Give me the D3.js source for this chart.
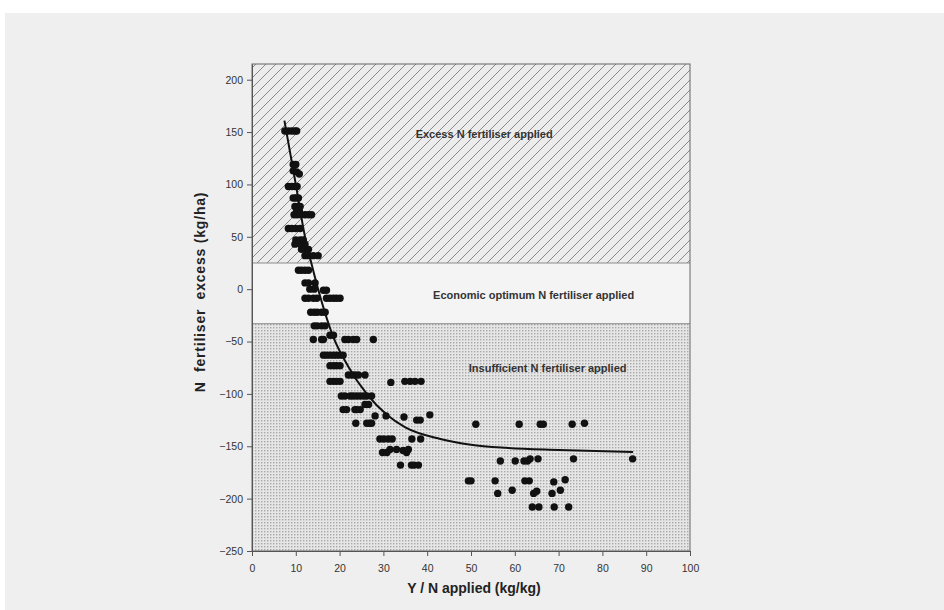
<!doctype html>
<html>
<head>
<meta charset="utf-8">
<script src="https://d3js.org/d3.v7.min.js"></script>
<style>
  body { margin: 0; background: #fff; }
  text { font-family: "Liberation Sans", Arial, sans-serif; }
</style>
</head>
<body>
<div id="chart"></div>
<script>
// x ticks, y ticks
var xTicks = [0, 10, 20, 30, 40, 50, 60, 70, 80, 90, 100];
var yTicks = [-250, -200, -150, -100, -50, 0, 50, 100, 150, 200];

// zone limits (kg/ha)
var zoneTop = 215;
var excessFrom = 25;
var insufficientFrom = -33;

var zoneLabels = [
  {text: "Excess N fertiliser applied", x: 53, y: 148},
  {text: "Economic optimum N fertiliser applied", x: 64.3, y: -6},
  {text: "Insufficient N fertiliser applied", x: 67.5, y: -75}
];

// fitted curve
var curvePoints = [
  [7.4, 161], [10, 100], [12.1, 50], [13.6, 24], [15.1, 0], [18.6, -46],
  [22, -74], [26.2, -100], [30.8, -120], [35, -132], [43, -143],
  [50, -148.5], [58, -151.5], [70, -153.5], [87, -155.4]
];

// observations [Y/N, excess]
var observations = [
  [7.5,151],[8.3,151],[9.1,151],[9.8,151],[10.2,151],
  [9.4,119],[10.0,119],
  [9.4,113],[10.2,112],[10.8,110],
  [8.3,98],[9.1,98],[9.8,98],[10.3,98],
  [9.4,87],[10.0,87],[10.6,87],
  [9.8,79],[10.6,79],[11.0,79],
  [10.2,75],[10.8,75],
  [9.6,71],[10.3,71],[11.1,71],[12.1,71],[12.9,71],[13.6,71],
  [8.3,58],[9.1,58],[10.0,58],[11.0,58],
  [10.0,47],[11.0,47],[11.7,47],
  [9.8,43],[11.0,43],[12.1,43],
  [11.3,38],[12.1,38],[12.9,38],
  [12.1,32],[13.0,32],[14.0,32],[15.1,32],
  [10.6,18],[11.3,18],[12.1,18],[12.9,18],
  [12.1,6],[12.9,6],[14.4,6],
  [13.2,0],[14.2,0],[16.3,-1],[17.0,-1],
  [12.1,-8.6],[12.9,-8.6],[14.0,-8.6],[14.8,-8.6],[17.0,-8.6],[17.8,-8.6],[18.6,-8.6],[19.3,-8.6],[20.1,-8.6],
  [13.4,-22],[14.2,-22],[14.9,-22],[15.9,-22],[16.7,-22],
  [14.2,-35],[14.9,-35],[15.9,-35],[16.7,-35],
  [17.8,-44],[18.6,-44],
  [14.0,-48],[15.9,-48],[16.3,-48],[21.2,-48],[22.0,-48],[23.1,-48],[23.9,-48],[27.7,-48],
  [16.3,-63],[17.0,-63],[17.8,-63],[18.6,-63],[19.3,-63],[20.1,-63],[20.8,-63],
  [17.8,-73],[18.6,-73],[19.3,-73],[20.1,-73],
  [22.0,-82],[22.8,-82],[23.5,-82],[24.3,-82],[25.8,-82],
  [17.8,-88],[18.6,-88],[19.3,-88],[20.1,-88],[31.7,-89],[34.9,-88],[36.1,-88],[37.2,-88],[38.6,-88],
  [20.4,-102],[21.2,-102],[22.4,-102],[23.1,-102],[23.9,-102],[24.7,-102],[25.5,-102],[26.2,-102],[27.3,-102],
  [25.8,-110],[26.6,-110],
  [20.8,-115],[21.6,-115],[23.5,-115],[23.9,-115],[24.7,-115],
  [28.1,-121],[30.6,-121],[34.7,-122],[37.6,-125],[38.4,-125],[40.6,-120],
  [23.7,-128],[26.2,-128],[26.9,-128],[27.3,-128],
  [51.1,-129],[61.0,-129],[65.8,-129],[66.5,-129],[73.1,-129],[75.9,-128],
  [29.2,-143],[30.1,-143],[31.1,-143],[32.0,-143],[36.5,-143],[38.5,-143],
  [29.8,-156],[30.8,-156],[31.5,-153],[33.0,-153],[34.5,-154],[35.3,-156],[35.7,-153],
  [33.9,-168],[36.4,-168],[37.0,-168],[38.0,-168],
  [56.7,-164],[60.1,-164],[62.1,-164],[62.9,-164],[63.5,-162],[65.3,-162],[73.4,-162],[86.9,-162],
  [49.4,-183],[50.0,-183],[55.5,-183],[62.3,-183],[63.3,-183],[68.9,-184],[71.5,-182],
  [56.1,-195],[59.4,-192],[64.3,-195],[65.0,-193],[68.5,-195],[70.4,-192],
  [64.0,-208],[65.5,-208],[69.0,-208],[72.3,-208]
];

var W = 944, H = 610;
var plotL = 252, plotR = 690, plotT = 64, plotB = 551;

var svg = d3.select("#chart").append("svg")
  .attr("width", W).attr("height", H);

svg.append("rect").attr("x", 5).attr("y", 13)
  .attr("width", W - 5).attr("height", H - 13).attr("fill", "#efefef");

var x = d3.scaleLinear().domain([0, 100]).range([plotL, plotR]);
var y = d3.scaleLinear().domain([-250, zoneTop]).range([plotB, plotT]);

var defs = svg.append("defs");
var hatch = defs.append("pattern").attr("id", "hatch")
  .attr("patternUnits", "userSpaceOnUse").attr("width", 10).attr("height", 10);
hatch.append("rect").attr("width", 10).attr("height", 10).attr("fill", "#ececec");
hatch.append("path").attr("d", "M-1,1 l2,-2 M0,10 l10,-10 M9,11 l2,-2")
  .attr("stroke", "#6a6a6a").attr("stroke-width", 0.75);

var dots = defs.append("pattern").attr("id", "dots")
  .attr("patternUnits", "userSpaceOnUse").attr("width", 3).attr("height", 3);
dots.append("rect").attr("width", 3).attr("height", 3).attr("fill", "#e6e6e6");
dots.append("rect").attr("width", 1.4).attr("height", 1.4).attr("fill", "#a8a8a8");

// zones
svg.append("rect").attr("x", x(0)).attr("y", y(zoneTop))
  .attr("width", x(100) - x(0)).attr("height", y(excessFrom) - y(zoneTop))
  .attr("fill", "url(#hatch)");
svg.append("rect").attr("x", x(0)).attr("y", y(excessFrom))
  .attr("width", x(100) - x(0)).attr("height", y(insufficientFrom) - y(excessFrom))
  .attr("fill", "#f4f4f4");
svg.append("rect").attr("x", x(0)).attr("y", y(insufficientFrom))
  .attr("width", x(100) - x(0)).attr("height", y(-250) - y(insufficientFrom))
  .attr("fill", "url(#dots)");

[excessFrom, insufficientFrom].forEach(function(v) {
  svg.append("line").attr("x1", x(0)).attr("x2", x(100))
    .attr("y1", y(v)).attr("y2", y(v))
    .attr("stroke", "#8a8a8a").attr("stroke-width", 1);
});

// frame
svg.append("rect").attr("x", x(0)).attr("y", y(zoneTop))
  .attr("width", x(100) - x(0)).attr("height", y(-250) - y(zoneTop))
  .attr("fill", "none").attr("stroke", "#666").attr("stroke-width", 1);

svg.selectAll(".zlab").data(zoneLabels).enter().append("text")
  .attr("x", function(d) { return x(d.x); })
  .attr("y", function(d) { return y(d.y); })
  .attr("dy", "0.35em")
  .attr("text-anchor", "middle")
  .attr("font-size", 11).attr("font-weight", "bold").attr("fill", "#333")
  .text(function(d) { return d.text; });

// axes
var gx = svg.append("g").attr("transform", "translate(0," + plotB + ")")
  .call(d3.axisBottom(x).tickValues(xTicks).tickSize(5).tickPadding(9).tickSizeOuter(0));
var gy = svg.append("g").attr("transform", "translate(" + plotL + ",0)")
  .call(d3.axisLeft(y).tickValues(yTicks).tickSize(5).tickPadding(4).tickSizeOuter(0));
[gx, gy].forEach(function(g) {
  g.select(".domain").attr("stroke", "#555");
  g.selectAll(".tick line").attr("stroke", "#555");
  g.selectAll("text").attr("font-size", 10.5).attr("fill", "#333")
    .attr("font-family", "Liberation Sans, Arial, sans-serif");
});

// data
svg.append("path").datum(curvePoints)
  .attr("d", d3.line().x(function(d) { return x(d[0]); }).y(function(d) { return y(d[1]); })
    .curve(d3.curveMonotoneX))
  .attr("fill", "none").attr("stroke", "#111").attr("stroke-width", 2);

svg.selectAll(".obs").data(observations).enter().append("circle")
  .attr("cx", function(d) { return x(d[0]); })
  .attr("cy", function(d) { return y(d[1]); })
  .attr("r", 3.7).attr("fill", "#111");

// titles
svg.append("text").attr("x", 474).attr("y", 593).attr("text-anchor", "middle")
  .attr("font-size", 14).attr("font-weight", "bold").attr("fill", "#222")
  .text("Y / N applied (kg/kg)");
svg.append("text").attr("transform", "translate(205,292) rotate(-90)")
  .attr("text-anchor", "middle").attr("font-size", 14).attr("font-weight", "bold")
  .attr("letter-spacing", 0.8)
  .attr("fill", "#222").style("white-space", "pre")
  .text("N  fertiliser  excess (kg/ha)");
</script>
</body>
</html>
